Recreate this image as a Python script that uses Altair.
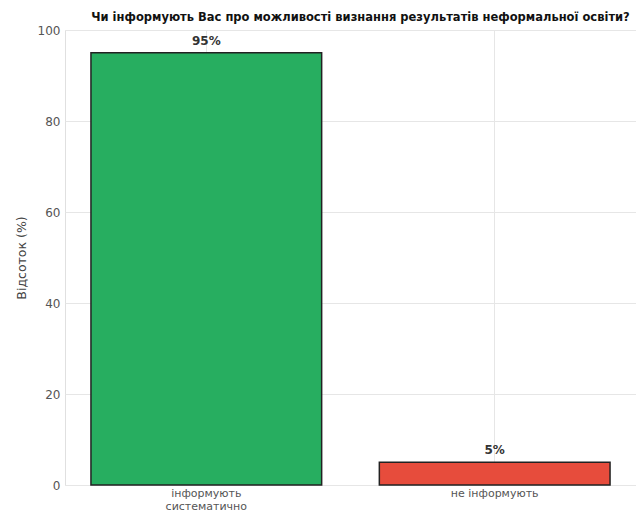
import altair as alt
import pandas as pd

categories = ["інформують систематично", "не інформують"]
values = [95, 5]
labels = ["95%", "5%"]
colors = ["#27ae60", "#e74c3c"]

df = pd.DataFrame({"cat": categories, "val": values, "lab": labels, "col": colors})

FONT = "DejaVu Sans"

x = alt.X(
    "cat:N",
    sort=categories,
    title=None,
    scale=alt.Scale(paddingInner=0.2, paddingOuter=0.09),
    axis=alt.Axis(
        labelAngle=0,
        labelExpr="datum.value == 'інформують систематично' ? ['інформують', 'систематично'] : datum.value",
        labelFontSize=11,
        labelColor="#555555",
        labelPadding=2,
        labelLineHeight=13,
        ticks=False,
        domain=False,
        grid=True,
        gridColor="#e6e6e6",
    ),
)

y = alt.Y(
    "val:Q",
    title="Відсоток (%)",
    scale=alt.Scale(domain=[0, 100], nice=False),
    axis=alt.Axis(
        values=[0, 20, 40, 60, 80, 100],
        labelFontSize=12,
        labelColor="#555555",
        labelPadding=5,
        titleFontSize=12.5,
        titleFontWeight="normal",
        titleColor="#444444",
        titlePadding=9,
        ticks=False,
        domain=False,
        gridColor="#e6e6e6",
    ),
)

bars = alt.Chart(df).mark_bar(stroke="#222222", strokeWidth=1.5).encode(
    x=x,
    y=y,
    color=alt.Color("col:N", scale=None),
)

text = alt.Chart(df).mark_text(
    fontWeight="bold", fontSize=12, dy=-12, color="#333333", font=FONT
).encode(x=alt.X("cat:N", sort=categories), y="val:Q", text="lab:N")

chart = (
    alt.layer(bars, text)
    .properties(
        width=571,
        height=455,
        title=alt.TitleParams(
            "Чи інформують Вас про можливості визнання результатів неформальної освіти?",
            fontSize=11.5,
            fontWeight="bold",
            color="#111111",
            font=FONT,
            anchor="middle",
            dx=10,
            offset=1,
        ),
        autosize=alt.AutoSizeParams(type="none"),
        padding={"left": 57, "top": 22, "right": 0, "bottom": 28},
    )
    .configure(font=FONT)
    .configure_view(stroke="#e0e0e0", strokeWidth=1)
)

chart.save("out.html", embed_options={"renderer": "svg", "actions": False})
